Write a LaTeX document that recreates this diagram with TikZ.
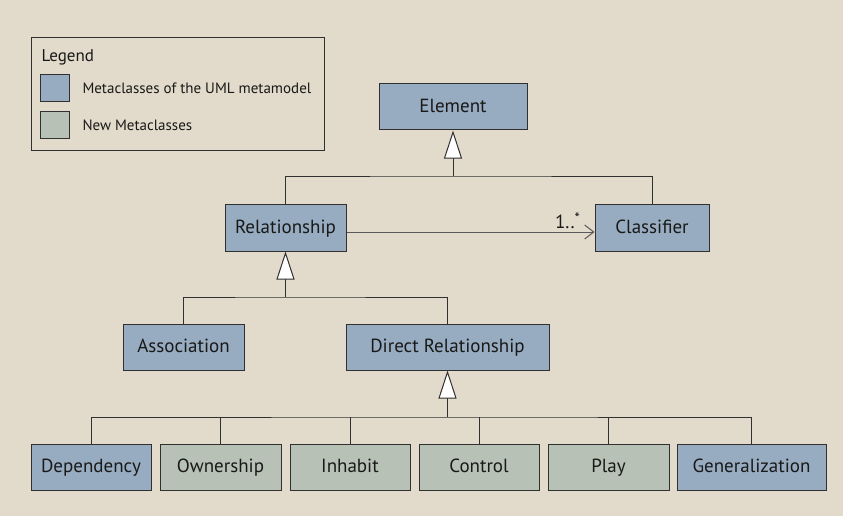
\documentclass[tikz,border=0pt]{standalone}
\usepackage{fontspec}
\setmainfont{PT Sans}
\usetikzlibrary{arrows.meta}
\definecolor{paper}{RGB}{226,218,202}
\definecolor{metablue}{RGB}{151,172,192}
\definecolor{newgreen}{RGB}{184,193,181}
\definecolor{inkgray}{RGB}{48,48,48}
\tikzset{every picture/.style={line width=1pt},
 metaclass/.style={draw=inkgray,fill=metablue,text=black!90,
  minimum height=46pt,inner sep=0pt,text height=14pt,text depth=3pt,
  font=\fontsize{19}{21}\selectfont},
 newclass/.style={metaclass,fill=newgreen},
 swatch/.style={draw=inkgray,fill=metablue,minimum width=29pt,minimum height=27pt,inner sep=0pt},
 gen/.style={draw=inkgray,-{Triangle[length=28pt,width=18pt,fill=white]}}}

\begin{document}
\begin{tikzpicture}[x=1pt,y=-1pt,>=Latex,
 every node/.style={text=black!90}]
 \fill[paper] (0,0) rectangle (843,516);
 \useasboundingbox (0,0) rectangle (843,516);

 % Legend
 \draw[inkgray] (31,38) rectangle (324,150);
 \node[anchor=west,inner sep=0pt,font=\fontsize{17}{19}\selectfont] (legend) at (41,57) {Legend};
 \node[swatch] (swold) at (54.5,88.5) {};
 \node[swatch,fill=newgreen] (swnew) at (54.5,125) {};
 \node[anchor=west,inner sep=0pt,font=\fontsize{15}{17}\selectfont] (txold) at (82,88.5)
  {Metaclasses of the UML metamodel};
 \node[anchor=west,inner sep=0pt,font=\fontsize{15}{17}\selectfont] (txnew) at (82,125)
  {New Metaclasses};

 % upper classes
 \node[metaclass,minimum width=148pt] (element) at (453,107) {Element};
 \node[metaclass,minimum width=121pt,minimum height=47pt] (relationship) at (285.5,227.5) {Relationship};
 \node[metaclass,minimum width=114pt,minimum height=47pt] (classifier) at (652,227.5) {Classifier};
 \node[metaclass,minimum width=121pt] (association) at (183.5,347) {Association};
 \node[metaclass,minimum width=203pt] (direct) at (447.5,347) {Direct Relationship};

 % lower row
 \foreach \nm/\txt/\cx/\bw/\sty in {dep/Dependency/91/120/metaclass,
   own/Ownership/220.5/121/newclass,inh/Inhabit/350/120/newclass,
   ctl/Control/479/120/newclass,ply/Play/608.5/121/newclass,
   gnz/Generalization/751.5/149/metaclass}{
  \node[\sty,minimum width=\bw pt] (\nm) at (\cx,467) {\txt};
 }

 % generalization trees
 \coordinate (j1) at (element.south |- 0,176);
 \draw[gen] (j1) -- (element.south);
 \draw[inkgray] (relationship.north) |- (j1) -| (classifier.north);

 \coordinate (j2) at (relationship.south |- 0,297);
 \draw[gen] (j2) -- (relationship.south);
 \draw[inkgray] (association.north) |- (j2) -| (direct.north);

 \coordinate (j3) at (direct.south |- 0,417);
 \draw[gen] (j3) -- (direct.south);
 \draw[inkgray] (dep.north) |- (j3) -| (gnz.north);
 \foreach \nm in {own,inh,ctl,ply}
  \draw[inkgray] (\nm.north) -- (\nm.north |- j3);

 % association end
 \draw[black!65,-{Straight Barb[length=9pt,width=14pt]}]
  (relationship.east |- 0,232) -- (classifier.west |- 0,232)
  node[pos=1,anchor=south east,xshift=-14pt,yshift=3pt,inner sep=0pt,
   font=\fontsize{19}{21}\selectfont,text=black!90]
  (mult) {1..\raisebox{5pt}{\fontsize{15}{15}\selectfont*}};
\end{tikzpicture}
\end{document}
